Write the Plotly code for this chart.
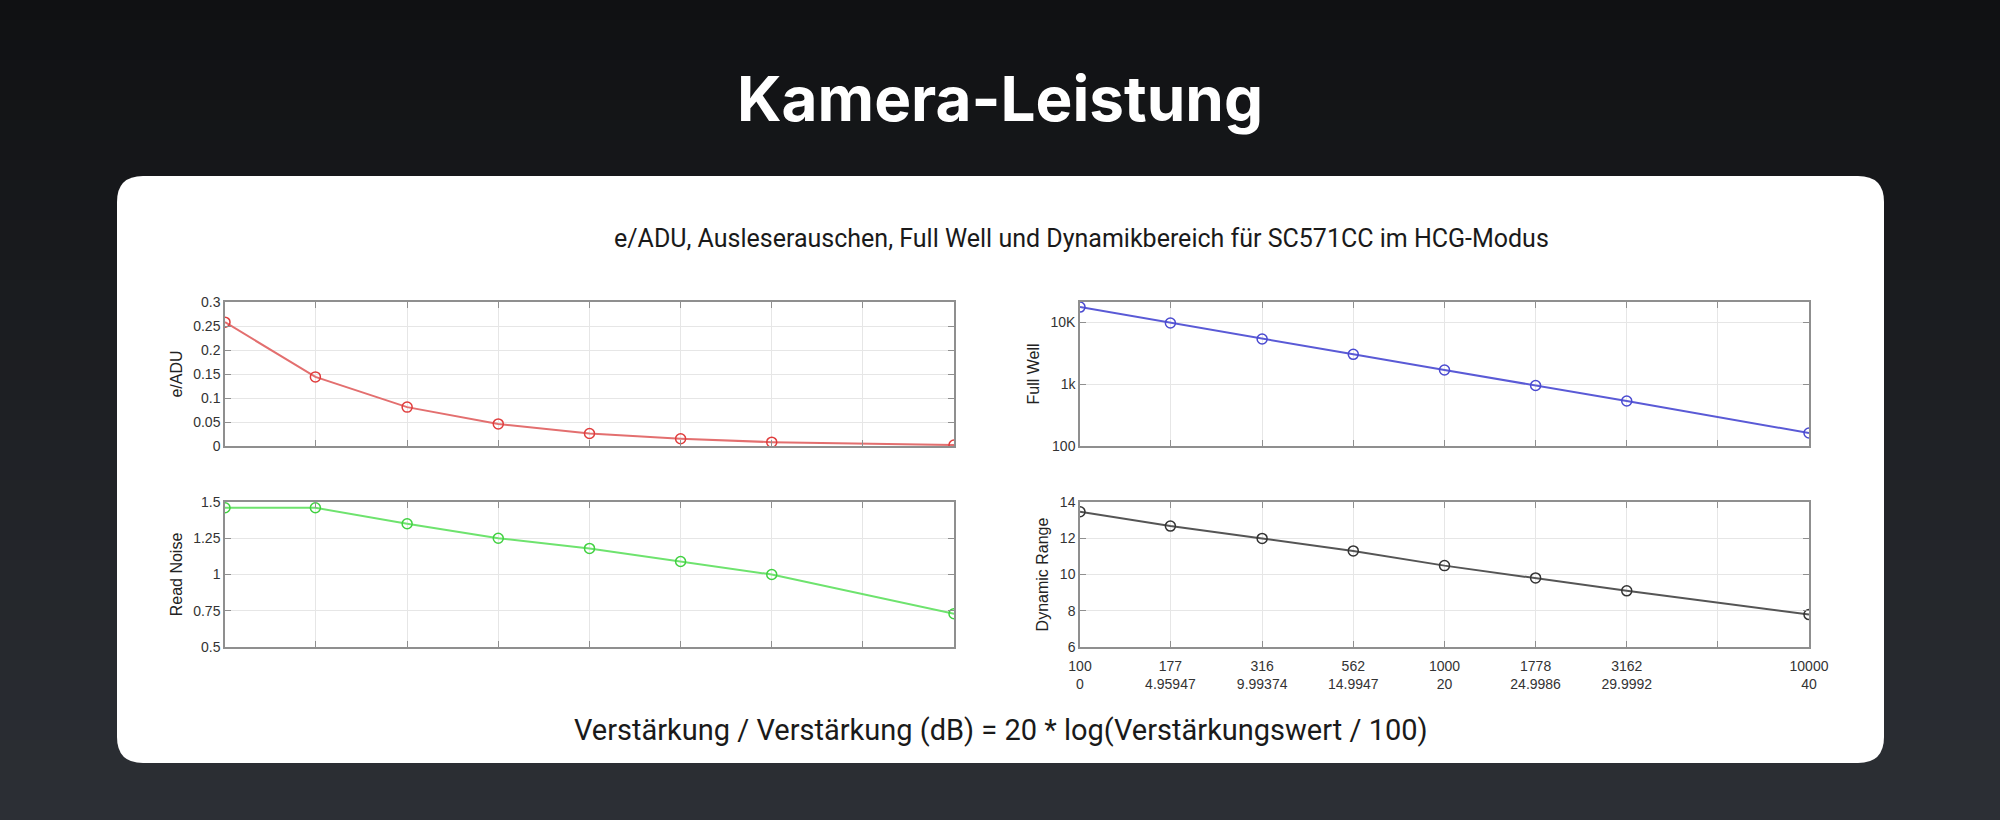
import plotly.graph_objects as go

# ---------------- data ----------------
gain = [100, 177, 316, 562, 1000, 1778, 3162, 10000]
gain_db_labels = ["0", "4.95947", "9.99374", "14.9947", "20", "24.9986", "29.9992", "40"]
grid_gain = [100, 177, 316, 562, 1000, 1778, 3162, 5623, 10000]

e_adu = [0.258, 0.144, 0.081, 0.046, 0.026, 0.015, 0.008, 0.002]
read_noise = [1.46, 1.46, 1.35, 1.25, 1.18, 1.09, 1.00, 0.73]
full_well = [17400, 9650, 5320, 3010, 1680, 945, 532, 162]
dynamic_range = [13.46, 12.67, 11.99, 11.30, 10.49, 9.81, 9.10, 7.79]

title_text = "Kamera-Leistung"
subtitle_text = "e/ADU, Ausleserauschen, Full Well und Dynamikbereich für SC571CC im HCG-Modus"
xlabel_text = "Verstärkung / Verstärkung (dB) = 20 * log(Verstärkungswert / 100)"

W, H = 2000, 820


def px_x(v):
    return v / W


def px_y(v):
    return 1 - v / H


fig = go.Figure()

series = [
    (e_adu, "x", "y", "#e36f6f", "#e03c3c"),
    (full_well, "x2", "y2", "#5a5ad6", "#4a4ad0"),
    (read_noise, "x3", "y3", "#6ee36e", "#40d040"),
    (dynamic_range, "x4", "y4", "#555555", "#333333"),
]
for vals, xa, ya, lc, mc in series:
    fig.add_trace(go.Scatter(
        x=gain, y=vals, xaxis=xa, yaxis=ya, mode="lines+markers",
        line=dict(color=lc, width=2),
        marker=dict(symbol="circle-open", size=10, color=mc, line=dict(width=1.5, color=mc)),
        showlegend=False, hoverinfo="x+y",
    ))

# domains (pixel based)
left_dom = [px_x(225), px_x(954)]
right_dom = [px_x(1080), px_x(1809)]
top_dom = [px_y(446), px_y(302)]
bot_dom = [px_y(647), px_y(502)]

tick_font = dict(family="Liberation Sans, Arial, sans-serif", size=14, color="#333333")
title_font = dict(family="Liberation Sans, Arial, sans-serif", size=16, color="#222222")
frame = dict(showline=True, linecolor="#8f8f8f", linewidth=1.5, mirror="ticks",
             ticks="inside", ticklen=6, tickcolor="#8f8f8f",
             showgrid=True, gridcolor="#e6e6e6", gridwidth=1, zeroline=False,
             tickfont=tick_font, automargin=False)

bottom_ticktext = [f"{g}<br>{d}" for g, d in zip(gain[:-1], gain_db_labels[:-1])] + [""] + \
                  [f"{gain[-1]}<br>{gain_db_labels[-1]}"]


def xax(dom, anchor, labels):
    d = dict(frame)
    d.update(type="log", domain=dom, anchor=anchor, range=[2, 4],
             tickmode="array", tickvals=grid_gain,
             ticktext=bottom_ticktext if labels else [""] * len(grid_gain),
             showticklabels=labels, ticklabelstandoff=5)
    return d


def yax(dom, anchor, title, **kw):
    d = dict(frame)
    d.update(domain=dom, anchor=anchor, title=dict(text=title, font=title_font, standoff=7))
    d.update(kw)
    return d


fig.update_layout(
    width=W, height=H, autosize=False,
    margin=dict(l=0, r=0, t=0, b=0, pad=0, autoexpand=False),
    paper_bgcolor="#16171a",
    plot_bgcolor="white",
    xaxis=xax(left_dom, "y", False),
    xaxis2=xax(right_dom, "y2", False),
    xaxis3=xax(left_dom, "y3", False),
    xaxis4=xax(right_dom, "y4", True),
    yaxis=yax(top_dom, "x", "e/ADU", range=[0, 0.3], tickmode="array",
              tickvals=[0, 0.05, 0.1, 0.15, 0.2, 0.25, 0.3],
              ticktext=["0", "0.05", "0.1", "0.15", "0.2", "0.25", "0.3"]),
    yaxis2=yax(top_dom, "x2", "Full Well", type="log", range=[2, 4.3226],
               tickmode="array", tickvals=[100, 1000, 10000], ticktext=["100", "1k", "10K"]),
    yaxis3=yax(bot_dom, "x3", "Read Noise", range=[0.5, 1.5], tickmode="array",
               tickvals=[0.5, 0.75, 1, 1.25, 1.5], ticktext=["0.5", "0.75", "1", "1.25", "1.5"]),
    yaxis4=yax(bot_dom, "x4", "Dynamic Range", range=[6, 14], tickmode="array",
               tickvals=[6, 8, 10, 12, 14], ticktext=["6", "8", "10", "12", "14"]),
)

# background gradient bands
shapes = []
n = 41
c0 = (16, 17, 19)
c1 = (44, 47, 53)
for i in range(n):
    t = i / (n - 1)
    c = tuple(int(round(a + (b - a) * t)) for a, b in zip(c0, c1))
    y0 = i * H / n
    y1 = (i + 1) * H / n + 1
    shapes.append(dict(type="rect", xref="paper", yref="paper", x0=-0.01, x1=1.01,
                       y0=px_y(min(y1, H + 10)), y1=px_y(y0 - (10 if i == 0 else 0)),
                       line=dict(width=0), fillcolor=f"rgb{c}", layer="below"))

# white rounded card
cx0, cx1, cy0, cy1, r = 117, 1884, 176, 763, 26
path = (f"M {px_x(cx0 + r)} {px_y(cy0)} L {px_x(cx1 - r)} {px_y(cy0)} "
        f"Q {px_x(cx1)} {px_y(cy0)} {px_x(cx1)} {px_y(cy0 + r)} "
        f"L {px_x(cx1)} {px_y(cy1 - r)} Q {px_x(cx1)} {px_y(cy1)} {px_x(cx1 - r)} {px_y(cy1)} "
        f"L {px_x(cx0 + r)} {px_y(cy1)} Q {px_x(cx0)} {px_y(cy1)} {px_x(cx0)} {px_y(cy1 - r)} "
        f"L {px_x(cx0)} {px_y(cy0 + r)} Q {px_x(cx0)} {px_y(cy0)} {px_x(cx0 + r)} {px_y(cy0)} Z")
shapes.append(dict(type="path", xref="paper", yref="paper", path=path,
                   fillcolor="white", line=dict(width=0), layer="below"))
fig.update_layout(shapes=shapes)

fig.add_annotation(text=f"<b>{title_text}</b>", xref="paper", yref="paper",
                   x=0.5, y=px_y(98), xanchor="center", yanchor="middle", showarrow=False,
                   font=dict(family="Inter, Noto Sans, sans-serif", size=62, color="white"))
fig.add_annotation(text=subtitle_text, xref="paper", yref="paper",
                   x=px_x(1081), y=px_y(238), xanchor="center", yanchor="middle", showarrow=False,
                   font=dict(family="Roboto, Noto Sans, sans-serif", size=25, color="#1a1a1a"))
fig.add_annotation(text=xlabel_text, xref="paper", yref="paper",
                   x=px_x(1001), y=px_y(730), xanchor="center", yanchor="middle", showarrow=False,
                   font=dict(family="Roboto, Noto Sans, sans-serif", size=29, color="#1a1a1a"))

fig.write_html(
    "out.html",
    post_script="document.documentElement.style.margin='0';document.body.style.margin='0';"
                "document.body.style.overflow='hidden';document.body.style.background='#16171a';",
)
